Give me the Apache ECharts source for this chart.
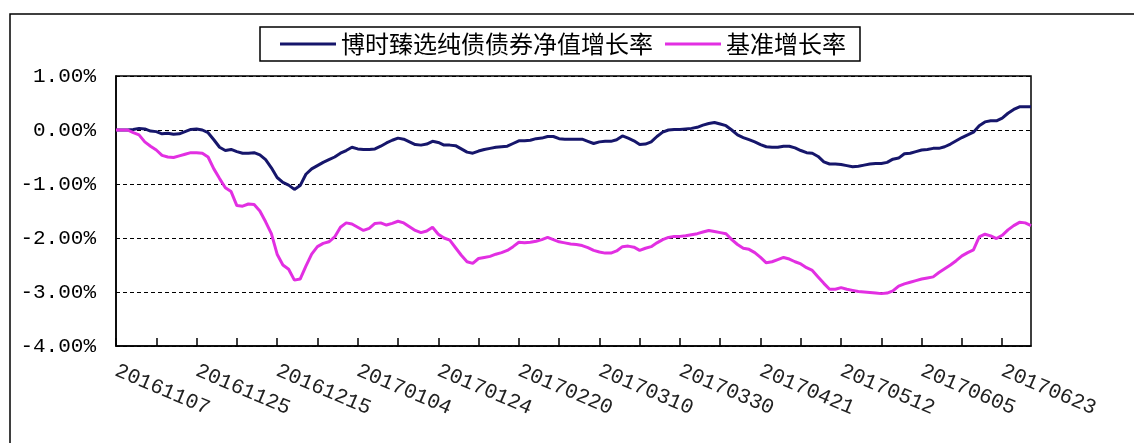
<!DOCTYPE html>
<html>
<head>
<meta charset="utf-8">
<script src="https://cdn.jsdelivr.net/npm/echarts@6/dist/echarts.min.js"></script>
<style>
html,body{margin:0;padding:0;background:#fff;}
#chart{width:1134px;height:443px;}
</style>
</head>
<body>
<div id="chart"></div>
<script>
// Trading dates (categories)
const dates = [
'20161107','20161108','20161109','20161110','20161111','20161114','20161115','20161116','20161117','20161118',
'20161121','20161122','20161123','20161124','20161125','20161128','20161129','20161130',
'20161201','20161202','20161205','20161206','20161207','20161208','20161209','20161212','20161213','20161214',
'20161215','20161216','20161219','20161220','20161221','20161222','20161223','20161226','20161227','20161228',
'20161229','20161230','20161231',
'20170103','20170104','20170105','20170106','20170109','20170110','20170111','20170112','20170113','20170116',
'20170117','20170118','20170119','20170120','20170123','20170124','20170125','20170126',
'20170203','20170206','20170207','20170208','20170209','20170210','20170213','20170214','20170215','20170216',
'20170217','20170220','20170221','20170222','20170223','20170224','20170227','20170228',
'20170301','20170302','20170303','20170306','20170307','20170308','20170309','20170310','20170313','20170314',
'20170315','20170316','20170317','20170320','20170321','20170322','20170323','20170324','20170327','20170328',
'20170329','20170330','20170331',
'20170405','20170406','20170407','20170410','20170411','20170412','20170413','20170414','20170417','20170418',
'20170419','20170420','20170421','20170424','20170425','20170426','20170427','20170428',
'20170502','20170503','20170504','20170505','20170508','20170509','20170510','20170511','20170512','20170515',
'20170516','20170517','20170518','20170519','20170522','20170523','20170524','20170525','20170526','20170531',
'20170601','20170602','20170605','20170606','20170607','20170608','20170609','20170612','20170613','20170614',
'20170615','20170616','20170619','20170620','20170621','20170622','20170623','20170626','20170627','20170628',
'20170629','20170630'
];

// Series names
const seriesNames = ['博时臻选纯债债券净值增长率', '基准增长率'];

// Fund NAV growth rate (%)
const fundGrowth = [
0,0,0,0.01,0.03,0.02,-0.02,-0.03,-0.07,-0.06,
-0.08,-0.07,-0.03,0.01,0.02,0,-0.05,-0.18,-0.32,-0.38,
-0.36,-0.40,-0.43,-0.43,-0.42,-0.46,-0.55,-0.70,-0.88,-0.97,
-1.02,-1.10,-1.03,-0.82,-0.72,-0.66,-0.60,-0.55,-0.50,-0.43,
-0.38,-0.32,-0.35,-0.36,-0.36,-0.35,-0.30,-0.24,-0.19,-0.15,
-0.17,-0.22,-0.27,-0.28,-0.26,-0.21,-0.23,-0.28,-0.28,-0.29,
-0.35,-0.41,-0.43,-0.39,-0.36,-0.34,-0.32,-0.31,-0.30,-0.25,
-0.20,-0.20,-0.19,-0.16,-0.15,-0.12,-0.12,-0.16,-0.17,-0.17,
-0.17,-0.17,-0.21,-0.25,-0.22,-0.21,-0.21,-0.18,-0.11,-0.15,
-0.20,-0.27,-0.26,-0.22,-0.12,-0.04,0,0.01,0.01,0.02,
0.03,0.05,0.09,0.12,0.14,0.11,0.08,0,-0.09,-0.14,
-0.18,-0.22,-0.27,-0.31,-0.32,-0.32,-0.30,-0.30,-0.33,-0.38,
-0.42,-0.43,-0.49,-0.59,-0.63,-0.63,-0.64,-0.66,-0.68,-0.67,
-0.65,-0.63,-0.62,-0.62,-0.60,-0.54,-0.52,-0.44,-0.43,-0.40,
-0.37,-0.36,-0.34,-0.34,-0.31,-0.26,-0.20,-0.14,-0.09,-0.04,
0.08,0.15,0.17,0.17,0.22,0.31,0.38,0.43,0.43,0.43
];

// Benchmark growth rate (%)
const benchGrowth = [
0,0,0,-0.05,-0.09,-0.22,-0.30,-0.37,-0.47,-0.50,
-0.51,-0.48,-0.45,-0.42,-0.42,-0.43,-0.50,-0.72,-0.90,-1.07,
-1.14,-1.40,-1.41,-1.37,-1.38,-1.50,-1.70,-1.92,-2.30,-2.50,
-2.58,-2.78,-2.76,-2.52,-2.30,-2.16,-2.10,-2.07,-1.98,-1.80,
-1.72,-1.74,-1.80,-1.86,-1.82,-1.73,-1.72,-1.76,-1.73,-1.69,
-1.72,-1.79,-1.86,-1.90,-1.87,-1.80,-1.93,-2.00,-2.04,-2.18,
-2.32,-2.44,-2.47,-2.38,-2.36,-2.34,-2.30,-2.27,-2.23,-2.16,
-2.08,-2.09,-2.08,-2.06,-2.03,-1.99,-2.03,-2.07,-2.09,-2.11,
-2.12,-2.14,-2.18,-2.23,-2.26,-2.28,-2.28,-2.24,-2.16,-2.15,
-2.17,-2.23,-2.19,-2.16,-2.09,-2.03,-1.99,-1.97,-1.97,-1.96,
-1.94,-1.92,-1.89,-1.86,-1.88,-1.90,-1.92,-2.03,-2.12,-2.19,
-2.21,-2.27,-2.36,-2.46,-2.44,-2.40,-2.36,-2.39,-2.44,-2.48,
-2.55,-2.60,-2.72,-2.84,-2.95,-2.95,-2.92,-2.95,-2.97,-2.99,
-3.00,-3.01,-3.02,-3.03,-3.02,-2.98,-2.89,-2.85,-2.82,-2.79,
-2.76,-2.74,-2.72,-2.64,-2.57,-2.50,-2.42,-2.33,-2.27,-2.22,
-1.98,-1.93,-1.96,-2.01,-1.95,-1.85,-1.77,-1.71,-1.72,-1.77
];

// Y axis ticks
const yMin = -4, yMax = 1, yStep = 1;

const chart = echarts.init(document.getElementById('chart'), null, {renderer: 'canvas'});
chart.setOption({
  animation: false,
  backgroundColor: '#fff',
  graphic: [{
    type: 'rect',
    shape: {x: 10, y: 14, width: 1140, height: 440},
    style: {fill: 'none', stroke: '#000', lineWidth: 1.5},
    silent: true
  }],
  legend: {
    left: 260, top: 27,
    padding: [5, 14, 5, 20],
    itemWidth: 56, itemHeight: 3, itemGap: 12,
    icon: 'rect',
    borderColor: '#000', borderWidth: 1.5,
    textStyle: {fontSize: 24, fontFamily: 'Noto Sans CJK SC', color: '#000'},
    data: seriesNames
  },
  grid: {
    left: 116, top: 76, right: 103, bottom: 97,
    show: true, borderColor: '#000', borderWidth: 1.5,
    outerBoundsMode: 'none'
  },
  xAxis: {
    type: 'category',
    data: dates,
    boundaryGap: false,
    axisLine: {onZero: false, lineStyle: {color: '#000', width: 1.5}},
    axisTick: {interval: 6, inside: true, length: 8, lineStyle: {color: '#000', width: 1.5}},
    axisLabel: {interval: 13, rotate: -23, margin: 24, fontFamily: 'Liberation Mono', fontSize: 21, color: '#222'},
    splitLine: {show: false}
  },
  yAxis: {
    type: 'value',
    min: yMin, max: yMax, interval: yStep,
    axisLine: {show: true, lineStyle: {color: '#000', width: 1.5}},
    axisTick: {show: false},
    axisLabel: {
      margin: 20, fontFamily: 'Liberation Mono', fontSize: 21, color: '#000',
      formatter: v => v.toFixed(2) + '%'
    },
    splitLine: {show: true, lineStyle: {type: [4, 3], color: '#000', width: 1}}
  },
  series: [
    {
      name: seriesNames[0], type: 'line', data: fundGrowth,
      symbol: 'none', color: '#16166B',
      lineStyle: {width: 3, color: '#16166B'}
    },
    {
      name: seriesNames[1], type: 'line', data: benchGrowth,
      symbol: 'none', color: '#E22FE2',
      lineStyle: {width: 3, color: '#E22FE2'}
    }
  ]
});
</script>
</body>
</html>
